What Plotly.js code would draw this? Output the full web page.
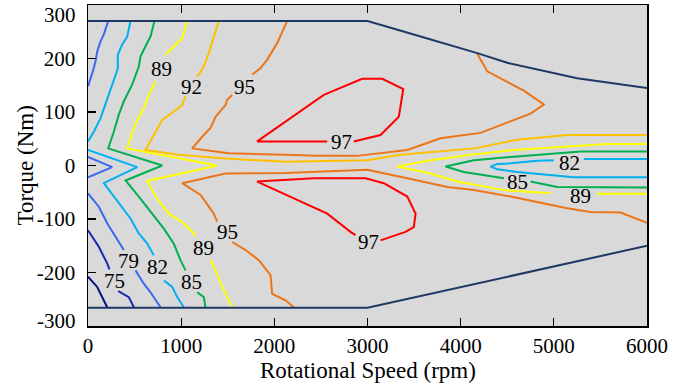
<!DOCTYPE html>
<html>
<head>
<meta charset="utf-8">
<script src="https://cdn.plot.ly/plotly-3.0.1.min.js"></script>
<style>html,body{margin:0;padding:0;background:#fff;}#chart{width:673px;height:390px;}</style>
</head>
<body>
<div id="chart"></div>
<script>
// Operating envelope (Nm vs rpm)
const envTopRpm = [0, 3000, 3570, 4178, 4500, 5250, 6000];
const envTopNm  = [270, 270, 241, 210, 192, 163, 145];
const envBotRpm = [0, 3000, 6000];
const envBotNm  = [-266, -266, -150];

// Efficiency contour lines (null = break / label gap)
const c71Rpm = [0, 99, 206];
const c71Nm  = [-208, -227, -265];

const c75Rpm = [0, 116, 206, 230, null, 325, 438, 492];
const c75Nm  = [-121, -152, -183, -194, null, -235, -246, -265];

const c79Rpm = [217, 170, 134, 99, 81, 52, 0, null, 0, 260, 0, null, 0, 116, 206, 295, 384, null, 510, 599, 671, 778];
const c79Nm  = [270, 245, 232, 213, 195, 176, 148, null, 16, -3, -22, null, -52, -77, -108, -133, -158, null, -196, -221, -237, -265];

const c82Rpm = [456, 421, 367, 320, 320, 260, 188, 134, 62, 0, null,
                0, 528, 170, 313, 456, 545, 636, 706, null, 814, 904, 958, 1028, null,
                6000, 5322, null, 5001, 4822, 4535, 4393, 4321, 4393, 4607, 5215, 6000];
const c82Nm  = [270, 241, 226, 207, 181, 151, 113, 88, 63, 45, null,
                29, -3, -33, -65, -99, -127, -146, -168, null, -215, -227, -246, -265, null,
                12, 12, null, 10, 9, 4, 3, -2, -7, -12, -22, -22];

const c85Rpm = [714, 671, 617, 564, 545, 474, 384, 331, 277, 217, 797, 403, 545, 689, 814, 921, 993, 1047, null, 1172, 1243, 1261, null,
                6000, 5287, 4535, 4142, 3838, 4034, 4464, null, 4750, 5037, 6000];
const c85Nm  = [270, 241, 223, 204, 185, 151, 120, 95, 63, 32, 0, -28, -58, -90, -118, -146, -177, -196, null, -237, -246, -265, null,
                26, 26, 16, 10, -2, -12, -24, null, -30, -40, -41];

const c89Rpm = [1065, 1011, 921, 832, null, 725, 653, 599, 510, 421, 1387, 636, 725, 867, 1028, 1136, 1154, null, 1315, 1369, 1441, 1511, 1548, null,
                6000, 5574, 5109, 4571, 4106, 3677, 3319, 3677, 3963, 4464, 4965, null, 5466, 6000];
const c89Nm  = [270, 238, 223, 207, null, 157, 132, 107, 79, 32, 0, -29, -58, -90, -108, -127, -133, null, -177, -196, -227, -252, -265, null,
                40, 40, 35, 29, 20, 10, -2, -15, -30, -46, -52, null, -53, -53];

const c92Rpm = [1404, 1350, 1297, 1243, 1172, null, 1047, 1011, 921, 797, 706, 617, 975, 1476, 2120, 2997, 3355, 3891, 4142, 4607, 5144, 6000];
const c92Nm  = [270, 238, 210, 185, 166, null, 129, 113, 101, 85, 57, 29, 20, 13, 7, 10, 20, 29, 32, 48, 57, 57];

const c95Rpm = [2138, 2031, 1924, 1852, 1763, null, 1548, 1494, 1476, 1369, 1315, 1243, 1118, 1511, 2120, 2460, 2890, 3427, 3784, 4213, 4750, 4893, 4678, 4285, 4178, null,
                2209, 2120, 2013, 1977, 1959, 1834, 1691, 1548, null, 1387, 1350, 1261, 1208, 1011, 1476, 2120, 2997, 3427, 3856, 4142, 4535, 5144, 5394, 5716, 6000];
const c95Nm  = [270, 229, 198, 182, 170, null, 132, 123, 113, 91, 70, 57, 32, 23, 20, 18, 18, 29, 51, 61, 97, 114, 140, 176, 209, null,
                -265, -252, -243, -240, -205, -177, -158, -143, null, -105, -90, -68, -55, -33, -15, -14, -8, -24, -40, -46, -58, -80, -87, -88, -107];

const c97Rpm = [2853, 3140, 3336, 3384, 3158, 2943, 2531, 1816, 2568, null,
                2871, 2818, 2568, 1816, 2424, 2979, 3175, 3427, 3516, 3497, 3408, 3140];
const c97Nm  = [45, 57, 91, 143, 162, 162, 132, 45, 45, null,
                -130, -124, -90, -30, -24, -24, -33, -58, -90, -115, -124, -140];

// Contour labels
const labelText = ['75', '79', '82', '85', '89', '92', '95', '89', '95', '97', '97', '82', '85', '89'];
const labelRpm  = [282, 437, 744, 1113, 784, 1109, 1678, 1245, 1494, 2720, 3011, 5170, 4607, 5287];
const labelNm   = [-216, -178, -190, -217, 180, 147, 146, -155, -124, 44, -143, 5, -30, -57];

// Axis ticks and titles
const yTickVals = [-200, -100, 0, 100, 200];
const yTickText = ['-200', '-100', '0', '100', '200'];
const yEdgeVals = [300, -300];
const yEdgeText = ['300', '-300'];
const xTickVals = [0, 1000, 2000, 3000, 4000, 5000, 6000];
const xTitle = 'Rotational Speed (rpm)';
const yTitle = 'Torque (Nm)';

const FONT = 'Liberation Serif, Times New Roman, serif';

function line(x, y, color) {
  return {x: x, y: y, type: 'scatter', mode: 'lines', connectgaps: false,
          line: {color: color, width: 2}, hoverinfo: 'skip', showlegend: false};
}

const traces = [
  line(c71Rpm, c71Nm, '#0a0f80'),
  line(c75Rpm, c75Nm, '#1428b0'),
  line(c79Rpm, c79Nm, '#3a68f0'),
  line(c82Rpm, c82Nm, '#00b0f0'),
  line(c85Rpm, c85Nm, '#00b050'),
  line(c89Rpm, c89Nm, '#ffff00'),
  line(c92Rpm, c92Nm, '#ffc000'),
  line(c95Rpm, c95Nm, '#ec7518'),
  line(c97Rpm, c97Nm, '#ff0000'),
  line(envTopRpm, envTopNm, '#1f3864'),
  line(envBotRpm, envBotNm, '#1f3864')
];

const annotations = labelText.map((t, i) => ({
  x: labelRpm[i], y: labelNm[i], xref: 'x', yref: 'y', text: t, showarrow: false,
  xanchor: 'center', yanchor: 'middle', font: {family: FONT, size: 21, color: '#000'}
}));
yEdgeText.forEach((t, i) => annotations.push({
  x: 0, y: yEdgeVals[i], xref: 'paper', yref: 'y', text: t, showarrow: false,
  xanchor: 'right', yanchor: 'middle', xshift: -10, yshift: i === 0 ? -9.5 : 5.5,
  font: {family: FONT, size: 21, color: '#000'}
}));
annotations.push({
  x: 0.5, y: 0, xref: 'paper', yref: 'paper', text: xTitle, showarrow: false,
  xanchor: 'center', yanchor: 'middle', yshift: -44,
  font: {family: FONT, size: 23, color: '#000'}
});
annotations.push({
  x: 0, y: 0.5, xref: 'paper', yref: 'paper', text: yTitle, showarrow: false, textangle: -90,
  xanchor: 'center', yanchor: 'middle', xshift: -63,
  font: {family: FONT, size: 23, color: '#000'}
});

const layout = {
  width: 673, height: 390,
  margin: {l: 88, r: 26, t: 5, b: 64},
  paper_bgcolor: '#ffffff',
  plot_bgcolor: '#d9d9d9',
  font: {family: FONT, size: 21, color: '#000'},
  showlegend: false,
  xaxis: {
    range: [0, 6000], tickvals: xTickVals, ticks: 'inside', ticklen: 8, tickwidth: 1.2, tickcolor: '#000',
    showline: true, linecolor: '#000', linewidth: 1.5, mirror: 'ticks', showgrid: false, zeroline: false,
    tickfont: {family: FONT, size: 21, color: '#000'}, ticklabelstandoff: 0
  },
  yaxis: {
    range: [-300, 300], tickvals: yTickVals, ticktext: yTickText, ticks: 'inside', ticklen: 8, tickwidth: 1.2, tickcolor: '#000',
    showline: true, linecolor: '#000', linewidth: 1.5, mirror: true, showgrid: false, zeroline: false,
    tickfont: {family: FONT, size: 21, color: '#000'}, ticklabelstandoff: 7
  },
  annotations: annotations
};

Plotly.newPlot('chart', traces, layout, {displayModeBar: false, staticPlot: true});
</script>
</body>
</html>
